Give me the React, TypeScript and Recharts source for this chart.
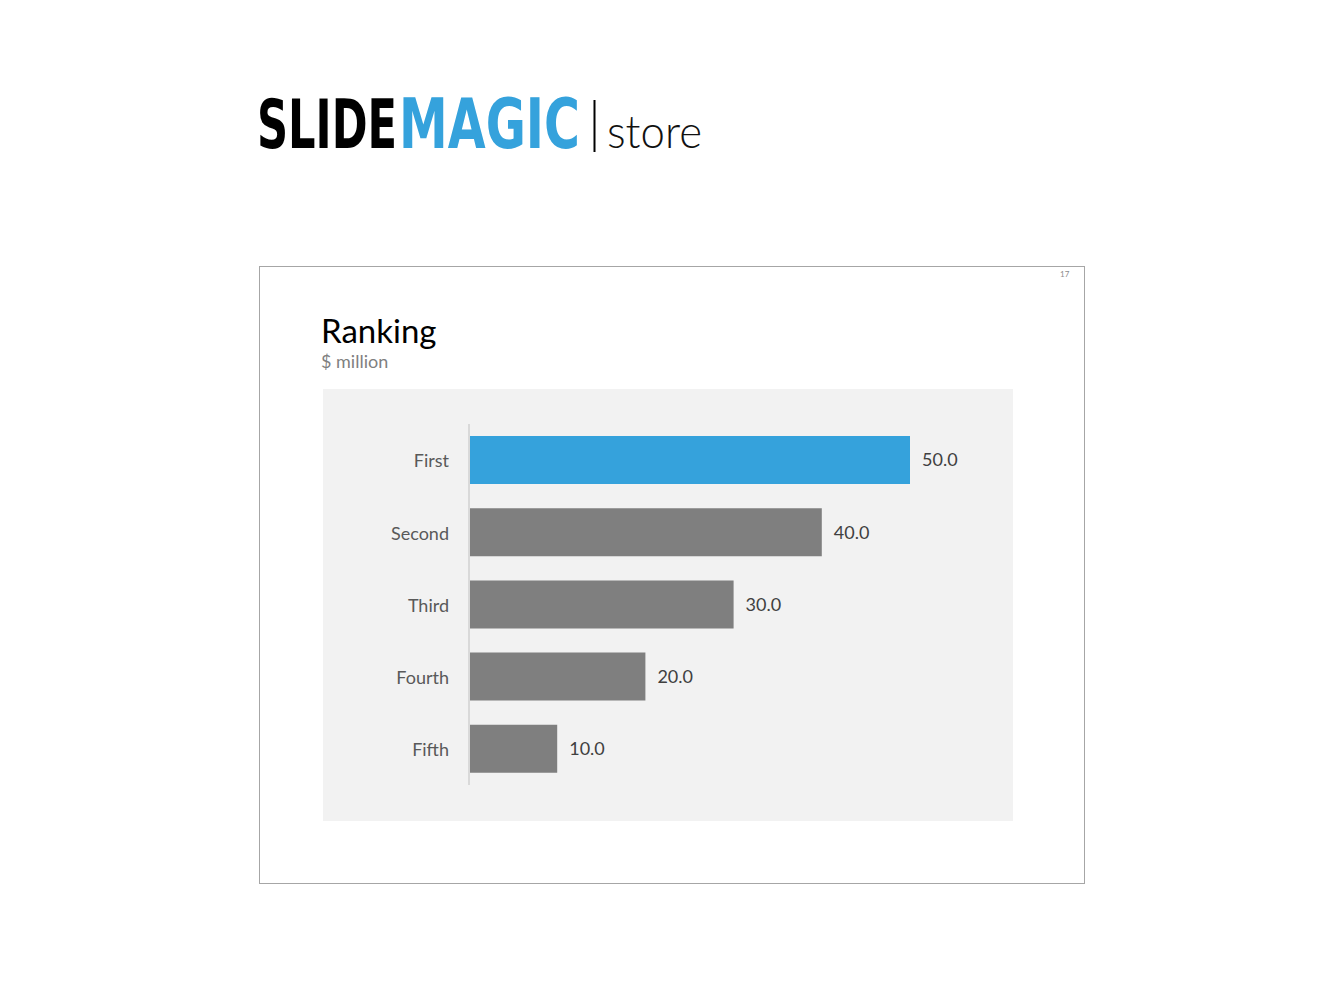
import { BarChart, Bar, XAxis, YAxis, Cell, LabelList } from "recharts";

const ranks = ["First", "Second", "Third", "Fourth", "Fifth"];
const amounts = [50, 40, 30, 20, 10];
const barColors = ["#35a2dc", "#7f7f7f", "#7f7f7f", "#7f7f7f", "#7f7f7f"];

const chartData = ranks.map((rank, i) => ({ rank, value: amounts[i] }));

const font = "Lato, 'Open Sans', sans-serif";
const logoFont = "'Liberation Sans Narrow', 'DejaVu Sans Condensed', sans-serif";

export default function App() {
  return (
    <div
      style={{
        position: "absolute",
        left: 0,
        top: 0,
        width: 1334,
        height: 1000,
        background: "#fff",
        fontFamily: font,
      }}
    >
      {/* Logo */}
      <svg
        width={500}
        height={110}
        style={{ position: "absolute", left: 250, top: 68 }}
      >
        <g transform="translate(0,80) scale(1,1.37)">
          <text
            x={7}
            y={0}
            fontFamily={logoFont}
            fontWeight={700}
            fontSize={50}
            fill="#000"
            textLength={140}
            lengthAdjust="spacingAndGlyphs"
          >
            SLIDE
          </text>
        </g>
        <g transform="translate(0,80) scale(1,1.27)">
          <text
            x={149}
            y={0}
            fontFamily={logoFont}
            fontWeight={700}
            fontSize={54}
            fill="#35a2dc"
            textLength={181}
            lengthAdjust="spacingAndGlyphs"
          >
            MAGIC
          </text>
        </g>
        <line x1={344.5} y1={32} x2={344.5} y2={84} stroke="#000" strokeWidth={2} />
        <text
          x={357}
          y={80}
          fontFamily={font}
          fontWeight={300}
          fontSize={46}
          fill="#111"
          textLength={95}
          lengthAdjust="spacingAndGlyphs"
        >
          store
        </text>
      </svg>

      {/* Slide frame */}
      <div
        style={{
          position: "absolute",
          left: 259,
          top: 266,
          width: 824,
          height: 616,
          border: "1px solid #a6a6a6",
        }}
      />
      <div
        style={{
          position: "absolute",
          left: 1060,
          top: 269,
          fontSize: 8,
          color: "#8c8c8c",
        }}
      >
        17
      </div>

      {/* Title */}
      <div
        style={{
          position: "absolute",
          left: 321,
          top: 310,
          fontSize: 33,
          color: "#000",
          lineHeight: "40px",
        }}
      >
        Ranking
      </div>
      <div
        style={{
          position: "absolute",
          left: 321,
          top: 350,
          fontSize: 18,
          color: "#7f7f7f",
          lineHeight: "22px",
        }}
      >
        $ million
      </div>

      {/* Chart */}
      <div
        style={{
          position: "absolute",
          left: 323,
          top: 389,
          width: 690,
          height: 432,
          background: "#f2f2f2",
        }}
      >
        <BarChart
          width={690}
          height={432}
          data={chartData}
          layout="vertical"
          margin={{ top: 35, right: 103, bottom: 36, left: 0 }}
        >
          <XAxis type="number" domain={[0, 50]} hide />
          <YAxis
            type="category"
            dataKey="rank"
            width={146}
            axisLine={{ stroke: "#d9d9d9", strokeWidth: 2 }}
            tickLine={false}
            tickSize={0}
            tickMargin={20}
            tick={{ fontSize: 18, fill: "#595959", fontFamily: font, dy: 1 }}
          />
          <Bar dataKey="value" barSize={48} isAnimationActive={false}>
            {chartData.map((d, i) => (
              <Cell key={d.rank} fill={barColors[i]} />
            ))}
            <LabelList
              dataKey="value"
              position="right"
              offset={12}
              formatter={(v: number) => v.toFixed(1)}
              style={{ fontSize: 18, fill: "#404040", fontFamily: font }}
            />
          </Bar>
        </BarChart>
      </div>
    </div>
  );
}
